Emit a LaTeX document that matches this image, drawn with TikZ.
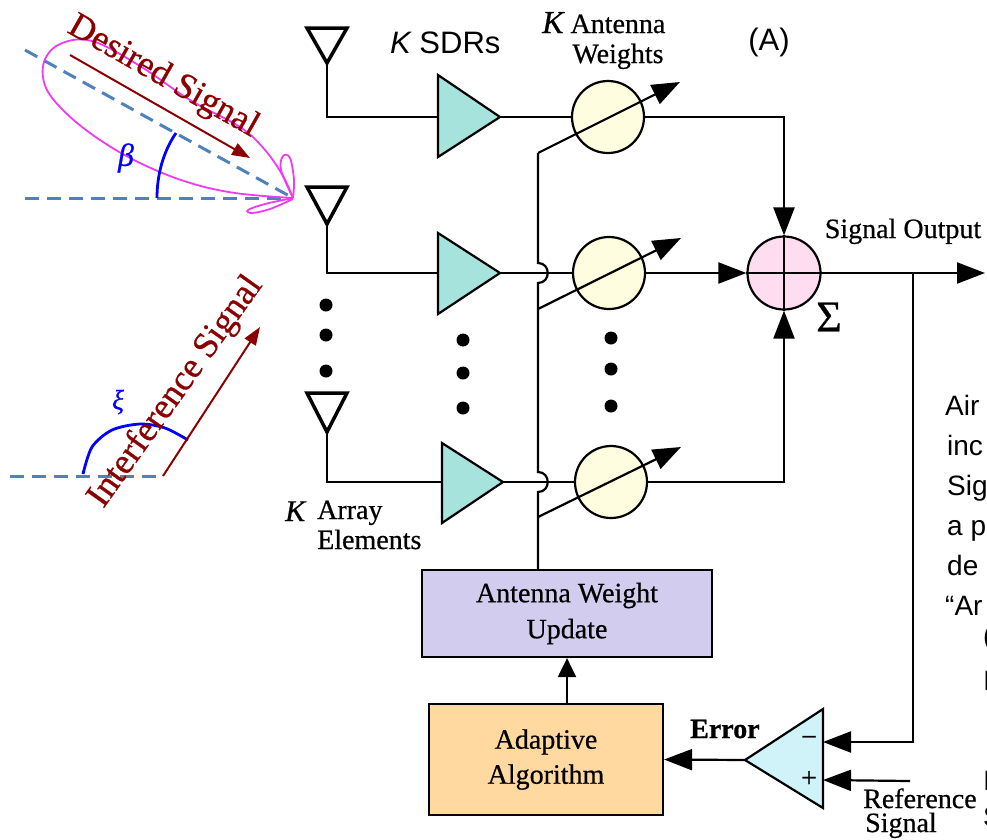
\documentclass[tikz,border=0pt]{standalone}
\usepackage{fontspec}
\setmainfont[FakeBold=0.6]{Liberation Serif}
\newfontfamily\sansfam{Liberation Sans}
\usetikzlibrary{arrows.meta}
\definecolor{ampfill}{HTML}{A6E3DC}
\definecolor{wfill}{HTML}{FFFDE0}
\definecolor{sumfill}{HTML}{FFDDF0}
\definecolor{awufill}{HTML}{D2CDEE}
\definecolor{algfill}{HTML}{FFD9A0}
\definecolor{subfill}{HTML}{CFF3F8}
\definecolor{beamblue}{HTML}{4F81BD}
\definecolor{sigred}{HTML}{8B0000}
\definecolor{lobecol}{HTML}{F03CF0}
\newcommand\fs[1]{\fontsize{#1}{#1}\selectfont}
\begin{document}
\begin{tikzpicture}[x=1pt,y=-1pt,
  wire/.style={line width=2.2pt},
  tip/.style={-{Triangle[length=28pt,width=21pt]}},
  smalltip/.style={-{Triangle[length=19pt,width=18pt]}},
  raytip/.style={-{Triangle[length=18pt,width=13pt]}},
  antenna/.style={line width=3.5pt, line join=miter},
  ampshape/.style={wire, fill=ampfill, line join=miter},
  weight/.style={circle, draw, line width=2.2pt, fill=wfill, minimum size=72pt, inner sep=0pt},
  summer/.style={circle, draw, line width=2.2pt, fill=sumfill, minimum size=73pt, inner sep=0pt},
  blockbox/.style={draw, line width=2.2pt, align=center, inner sep=0pt, font=\fontsize{28}{36}\selectfont},
  lbl/.style={inner sep=0pt, font=\fs{28}},
  sanslbl/.style={inner sep=0pt, font=\sansfam\fs{31}},
  sidetext/.style={inner sep=0pt, anchor=base west, font=\sansfam\fs{28}},
  bluedash/.style={beamblue, line width=3pt, dash pattern=on 14pt off 8pt},
  lobe/.style={lobecol, line width=1.8pt},
  angarc/.style={blue, line width=2.8pt},
  ray/.style={sigred, line width=2pt, raytip},
  dot/.style={fill=black}
  ]
\useasboundingbox (0,0) rectangle (987,839);
\clip (0,0) rectangle (987,839);

% ---------- beam pattern and arrival angles ----------
\coordinate (apex) at (293,198);
\coordinate (hz) at (25,198);
\coordinate (dg) at (25,50);
\draw[bluedash] (hz) -- (apex);
\draw[bluedash] (dg) -- (apex);
\draw[lobe] plot[smooth, tension=0.6] coordinates {(293,198) (283,176) (265,150) (240,127) (190,100) (140,66) (92,41) (60,44) (44,62) (46,88) (67,114) (100,140) (140,163) (187,182) (235,193) (293,198)};
\draw[lobe] plot[smooth, tension=0.6] coordinates {(293,198) (281,170) (283,156) (290,158) (294,180) (293,198)};
\draw[lobe] plot[smooth, tension=0.6] coordinates {(293,198) (265,204) (248,210) (252,213) (270,209) (293,199)};
\draw[angarc] (157,198) .. controls (157,175) and (163,152) .. (176,133);
\node[text=blue, inner sep=0pt, font=\fs{32}\itshape] (beta) at (126,158) {β};
\coordinate (ds0) at (70,55);
\coordinate (ds1) at (250,158);
\draw[ray] (ds0) -- (ds1);
\node[text=sigred, inner sep=0pt, font=\fs{36}, rotate=-29.6] (dslbl) at (163,77) {Desired Signal};

\coordinate (ibase) at (163,476);
\coordinate (ileft) at (10,476);
\coordinate (itip) at (260,327);
\draw[bluedash] (ileft) -- (ibase);
\draw[angarc] plot[smooth] coordinates {(83,474) (92,447) (112,430) (140,424) (165,428) (188,440)};
\node[text=blue, inner sep=0pt, font=\fs{28}\itshape] (xi) at (118,402) {ξ};
\draw[ray] (ibase) -- (itip);
\node[text=sigred, inner sep=0pt, font=\fs{36}, rotate=54.5] (islbl) at (176,392) {Interference Signal};

% ---------- antennas ----------
\draw[antenna] (307,28) -- (347,28) -- (327,63) -- cycle;
\draw[antenna] (307,187) -- (347,187) -- (327,224) -- cycle;
\draw[antenna] (307,393) -- (347,393) -- (327,432) -- cycle;
\coordinate (a1) at (327,63);
\coordinate (a2) at (327,224);
\coordinate (a3) at (327,432);

% ---------- SDR amplifiers ----------
\draw[ampshape] (438,75) -- (500,117) -- (438,157) -- cycle;
\draw[ampshape] (438,233) -- (500,273) -- (438,314) -- cycle;
\draw[ampshape] (442,443) -- (503,482) -- (442,523) -- cycle;
\coordinate (amp1in) at (438,117);  \coordinate (amp1out) at (500,117);
\coordinate (amp2in) at (438,273);  \coordinate (amp2out) at (500,273);
\coordinate (amp3in) at (442,482);  \coordinate (amp3out) at (503,482);
\draw[wire] (a1) |- (amp1in);
\draw[wire] (a2) |- (amp2in);
\draw[wire] (a3) |- (amp3in);

% ---------- weights and combiner ----------
\node[weight] (w1) at (608,117) {};
\node[weight] (w2) at (609,273) {};
\node[weight] (w3) at (611,482) {};
\node[summer] (sum) at (784,273) {};
\draw[wire] (sum.north) -- (sum.south);
\draw[wire] (sum.west) -- (sum.east);
\draw[wire] (amp1out) -- (w1.west);
\draw[wire] (amp2out) -- (w2.west);
\draw[wire] (amp3out) -- (w3.west);
\draw[wire,tip] (w1.east) -| (sum.north);
\draw[wire,tip] (w2.east) -- (sum.west);
\draw[wire,tip] (w3.east) -| (sum.south);

% ---------- weight update blocks ----------
\node[blockbox, fill=awufill, minimum width=290pt, minimum height=87pt] (awu) at (567,613.5) {Antenna Weight\\Update};
\node[blockbox, fill=algfill, minimum width=234pt, minimum height=111pt, font=\fontsize{28}{35}\selectfont] (alg) at (546,759.5) {Adaptive\\Algorithm};
\draw[wire,smalltip] (alg.north -| awu.south) -- (awu.south);

% control bus with hops over the signal lines
\coordinate (k1) at (538,153);
\coordinate (k2) at (538,309);
\coordinate (k3) at (538,517);
\draw[wire] (k1) -- (538,263) .. controls (551,263) and (551,283) .. (538,283)
  -- (538,472) .. controls (551,472) and (551,492) .. (538,492) -- (awu.north -| k1);
\coordinate (c1) at (680,82);
\coordinate (c2) at (681,238);
\coordinate (c3) at (681,447);
\draw[wire,tip] (k1) -- (c1);
\draw[wire,tip] (k2) -- (c2);
\draw[wire,tip] (k3) -- (c3);

% ---------- output and error path ----------
\coordinate (out) at (985,273);
\coordinate (br) at (913,273);
\draw[wire,tip] (sum.east) -- (out);
\fill[subfill] (745,760) -- (823,709) -- (823,808) -- cycle;
\draw[wire, line join=miter] (745,760) -- (823,709) -- (823,808) -- cycle;
\coordinate (subo) at (745,760);
\coordinate (subm) at (823,742);
\coordinate (subp) at (823,780);
\coordinate (refin) at (910,781);
\draw[wire,tip] (br) |- (subm);
\draw[wire,tip] (refin) -- (subp);
\draw[wire,tip] (subo) -- (alg.east);
\node[lbl] (minus) at (809,741) {−};
\node[lbl] (plus) at (809,779) {+};

% ---------- ellipsis dots ----------
\foreach \y in {305,335,371} \fill[dot] (326,\y) circle (6.5pt);
\foreach \y in {340,373,408} \fill[dot] (463,\y) circle (6.5pt);
\foreach \y in {338,369,406} \fill[dot] (611,\y) circle (6.5pt);

% ---------- labels ----------
\node[sanslbl, anchor=base west] (sdrs) at (390,53) {\itshape K\upshape\ SDRs};
\node[sanslbl] (tagA) at (769,42) {(A)};
\node[lbl, anchor=base west] (kw) at (542,33) {{\fs{32}\itshape K}\ Antenna};
\node[lbl, anchor=base] (kw2) at (618,63) {Weights};
\node[lbl, anchor=base] (sigout) at (903,238) {Signal Output};
\node[inner sep=0pt, font=\fs{44}] (sigma) at (829,317) {Σ};
\node[lbl, anchor=base west] (karr) at (285,521) {{\fs{30}\itshape K}};
\node[lbl, anchor=base west] (arr1) at (317,519) {Array};
\node[lbl, anchor=base west] (arr2) at (317,549) {Elements};
\node[lbl, anchor=base west, font=\fs{28}\bfseries] (err) at (690,738) {Error};
\node[lbl, anchor=base west] (ref1) at (863,808) {Reference};
\node[lbl, anchor=base west] (ref2) at (865,832) {Signal};

% ---------- side text running off the right edge ----------
\node[sidetext] (t1) at (945,415) {Air};
\node[sidetext] (t2) at (947,455) {inc};
\node[sidetext] (t3) at (947,495) {Sig};
\node[sidetext] (t4) at (947,535) {a p};
\node[sidetext] (t5) at (947,575) {de};
\node[sidetext] (t6) at (945,615) {“Ar};
\node[sidetext] (t7) at (983,645) {(};
\node[sidetext] (t8) at (983,690) {I};
\node[sidetext] (t9) at (983,790) {I};
\node[sidetext] (t10) at (983,826) {S};
\end{tikzpicture}
\end{document}
